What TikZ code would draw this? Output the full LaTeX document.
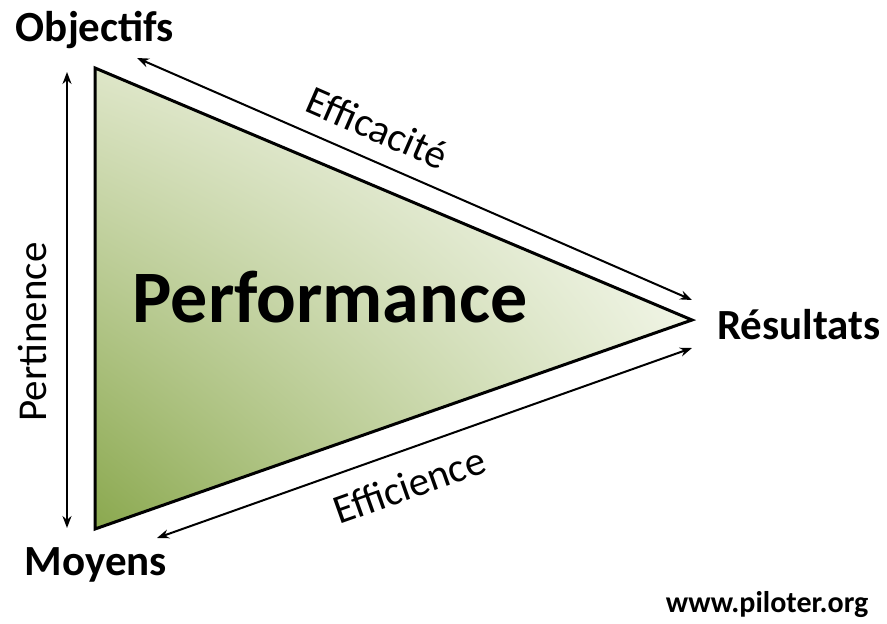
\documentclass[tikz,border=0pt]{standalone}
\usepackage{fontspec}
\setmainfont{Carlito}
\usepackage{xcolor}
\usetikzlibrary{positioning, arrows.meta, shadings}

\definecolor{perfdark}{RGB}{138,168,78}
\definecolor{perflight}{RGB}{222,230,200}
\definecolor{perfmid}{RGB}{228,236,208}

\begin{document}
\begin{tikzpicture}[x=0.5pt, y=-0.5pt,
    corner/.style = {font=\fontsize{21.5}{24}\selectfont\bfseries},
    side/.style = {font=\fontsize{20.5}{24}\selectfont, inner sep=0pt},
    fleche/.style = {line width=1pt, {Stealth[length=6pt, width=4.5pt]}-{Stealth[length=6pt, width=4.5pt]}}]
    \useasboundingbox (0,0) rectangle (887,624);
    % sommets du triangle
    \coordinate (O) at (95,68);
    \coordinate (M) at (95,529);
    \coordinate (R) at (692,320);
    \shade[lower left=perfdark, upper left=perflight, upper right=white, lower right=perfmid] (O) -- (R) -- (M) -- cycle;
    \draw[line width=1.5pt] (O) -- (R) -- (M) -- cycle;
    % textes
    \node[corner] (obj) at (95,30) {Objectifs};
    \node[corner] (res) at (799,325) {Résultats};
    \node[corner] (moy) at (96,565) {Moyens};
    \node[font=\fontsize{15}{18}\selectfont\bfseries] (site) at (767,605) {www.piloter.org};
    \node[font=\fontsize{37}{40}\selectfont\bfseries] (perf) at (330,297) {Performance};
    % fleches
    \coordinate (o1) at (67,72);
    \coordinate (m1) at (67,528);
    \coordinate (o2) at (137,58);
    \coordinate (r2) at (692,300);
    \coordinate (m3) at (157,538);
    \coordinate (r3) at (692,348);
    \draw[fleche] (m1) -- node[side, sloped, above=9.5pt, pos=0.43] (pert) {Pertinence} (o1);
    \draw[fleche] (o2) -- node[side, sloped, above=8.5pt, pos=0.41] (effa) {Efficacité} (r2);
    \draw[fleche] (m3) -- node[side, sloped, below=9.5pt, pos=0.45] (effi) {Efficience} (r3);
\end{tikzpicture}
\end{document}
